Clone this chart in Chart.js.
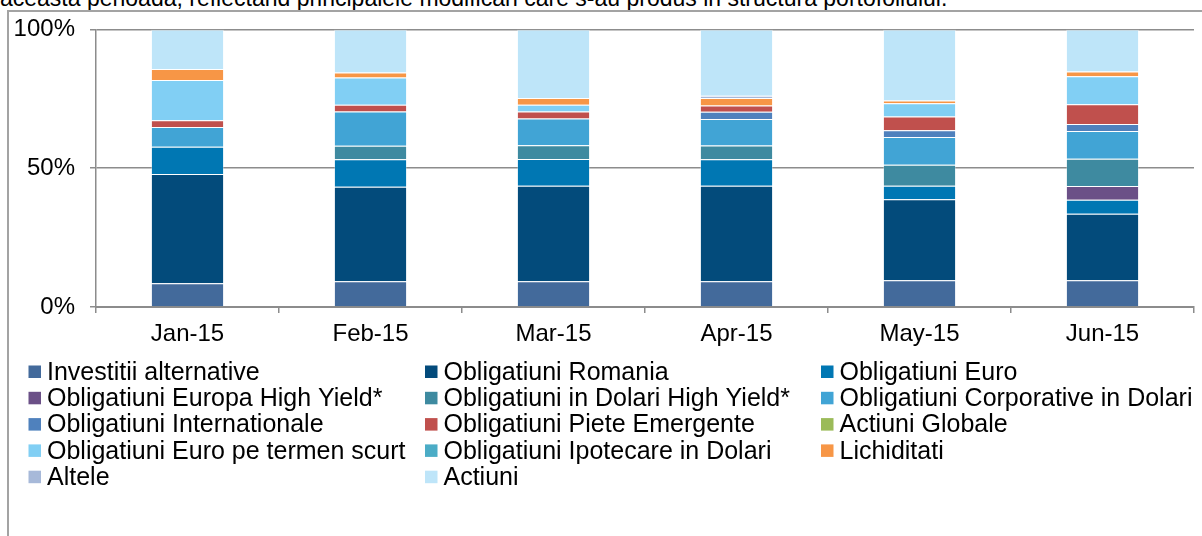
<!DOCTYPE html>
<html lang="ro">
<head>
<meta charset="UTF-8">
<title>Structura portofoliului</title>
<script src="https://cdn.jsdelivr.net/npm/chart.js"></script>
<style>
  html, body { margin: 0; padding: 0; background: #fff; overflow: hidden; }
  body { width: 1202px; height: 536px; position: relative; font-family: Arial, 'Liberation Sans', sans-serif; }
  .intro { position: absolute; left: 0; top: -13.5px; font-size: 23px; line-height: 23px; white-space: nowrap; color: #000; }
  .frame { position: absolute; left: 7px; top: 10px; width: 1210px; height: 540px; border-left: 2px solid #a3a3a3; border-top: 2px solid #a3a3a3; }
  canvas { position: absolute; left: 0; top: 0; }
</style>
</head>
<body>
<div class="intro">aceasta perioada, reflectand principalele modificari care s-au produs in structura portofoliului.</div>
<div class="frame"></div>
<canvas id="portfolioChart" width="1202" height="536"></canvas>

<script>
  // months shown on the x axis
  const months = ['Jan-15', 'Feb-15', 'Mar-15', 'Apr-15', 'May-15', 'Jun-15'];

  // share of the portfolio (%), bottom of the stack first
  const investitiiAlternative   = [8.6, 9.3, 9.3, 9.3, 9.6, 9.6];
  const obligRomania            = [39.3, 34.0, 34.4, 34.4, 29.2, 24.0];
  const obligEuro               = [9.8, 9.9, 9.6, 9.5, 4.9, 5.0];
  const obligEuropaHY           = [0, 0, 0, 0, 0, 5.0];
  const obligDolariHY           = [0, 4.9, 5.0, 5.0, 7.5, 9.8];
  const obligCorporativeDolari  = [7.1, 12.3, 9.6, 9.5, 10.0, 10.0];
  const obligInternationale     = [0, 0, 0, 2.6, 2.5, 2.5];
  const obligPieteEmergente     = [2.5, 2.5, 2.5, 2.3, 4.9, 7.1];
  const actiuniGlobale          = [0, 0, 0, 0, 0, 0];
  const obligEuroTermenScurt    = [14.5, 9.8, 2.5, 0, 4.8, 10.1];
  const obligIpotecareDolari    = [0, 0, 0, 0, 0, 0];
  const lichiditati             = [3.9, 1.8, 2.4, 2.7, 1.0, 1.7];
  const altele                  = [0, 0, 0, 0.8, 0, 0];
  const actiuni                 = [14.3, 15.5, 24.7, 23.9, 25.6, 15.2];

  const yTicks = [0, 50, 100];

  const series = [
    ['Investitii alternative', investitiiAlternative, '#436a9b'],
    ['Obligatiuni Romania', obligRomania, '#034b7b'],
    ['Obligatiuni Euro', obligEuro, '#0077b3'],
    ['Obligatiuni Europa High Yield*', obligEuropaHY, '#6b5087'],
    ['Obligatiuni in Dolari High Yield*', obligDolariHY, '#3e8aa0'],
    ['Obligatiuni Corporative in Dolari', obligCorporativeDolari, '#41a4d5'],
    ['Obligatiuni Internationale', obligInternationale, '#4f81bd'],
    ['Obligatiuni Piete Emergente', obligPieteEmergente, '#c0504d'],
    ['Actiuni Globale', actiuniGlobale, '#9bbb59'],
    ['Obligatiuni Euro pe termen scurt', obligEuroTermenScurt, '#81cff4'],
    ['Obligatiuni Ipotecare in Dolari', obligIpotecareDolari, '#4bacc6'],
    ['Lichiditati', lichiditati, '#f79646'],
    ['Altele', altele, '#a7b9d9'],
    ['Actiuni', actiuni, '#bee5f9']
  ];

  const FONT = 'Arial, "Liberation Sans", sans-serif';
  const AXIS = '#8c8c8c';

  // legend drawn in three fixed columns under the plot
  const gridLegend = {
    id: 'gridLegend',
    afterDraw(chart) {
      const cols = [28.5, 425, 821];
      const top = 371.5, step = 26.3;
      const ctx = chart.ctx;
      ctx.save();
      ctx.font = '25px ' + FONT;
      ctx.textBaseline = 'middle';
      chart.data.datasets.forEach((ds, i) => {
        const x = cols[i % 3];
        const y = top + Math.floor(i / 3) * step;
        ctx.fillStyle = ds.backgroundColor;
        ctx.fillRect(x, y - 6, 12.5, 12.5);
        ctx.fillStyle = '#000';
        ctx.fillText(ds.label, x + 18.5, y + 1.5);
      });
      ctx.restore();
    }
  };

  new Chart(document.getElementById('portfolioChart').getContext('2d'), {
    type: 'bar',
    data: {
      labels: months,
      datasets: series.map(([label, data, color]) => ({
        label,
        data,
        backgroundColor: color,
        borderColor: 'rgba(255,255,255,0.3)',
        borderWidth: ctx => (ctx.raw ? 1 : 0),
        categoryPercentage: 0.8,
        barPercentage: 0.5
      }))
    },
    options: {
      responsive: false,
      animation: false,
      layout: { padding: { top: 27, left: 8, right: 8, bottom: 189 } },
      scales: {
        x: {
          stacked: true,
          grid: { offset: true, drawOnChartArea: false, tickLength: 6, color: AXIS, lineWidth: 1.5 },
          border: { color: AXIS, width: 2 },
          ticks: { color: '#000', font: { size: 24, family: FONT }, padding: 7, maxRotation: 0 },
          afterFit: s => { s.height = 40; }
        },
        y: {
          stacked: true,
          min: 0,
          max: 100,
          afterBuildTicks: s => { s.ticks = yTicks.map(v => ({ value: v })); },
          grid: { color: AXIS, lineWidth: 1.5, tickLength: 6 },
          border: { color: AXIS, width: 1.5 },
          ticks: { color: '#000', font: { size: 24, family: FONT }, padding: 15, callback: v => v + '%' },
          afterFit: s => { s.width = 88; }
        }
      },
      plugins: {
        legend: { display: false },
        tooltip: { callbacks: { label: c => `${c.dataset.label}: ${c.raw}%` } }
      }
    },
    plugins: [gridLegend]
  });
</script>
</body>
</html>
